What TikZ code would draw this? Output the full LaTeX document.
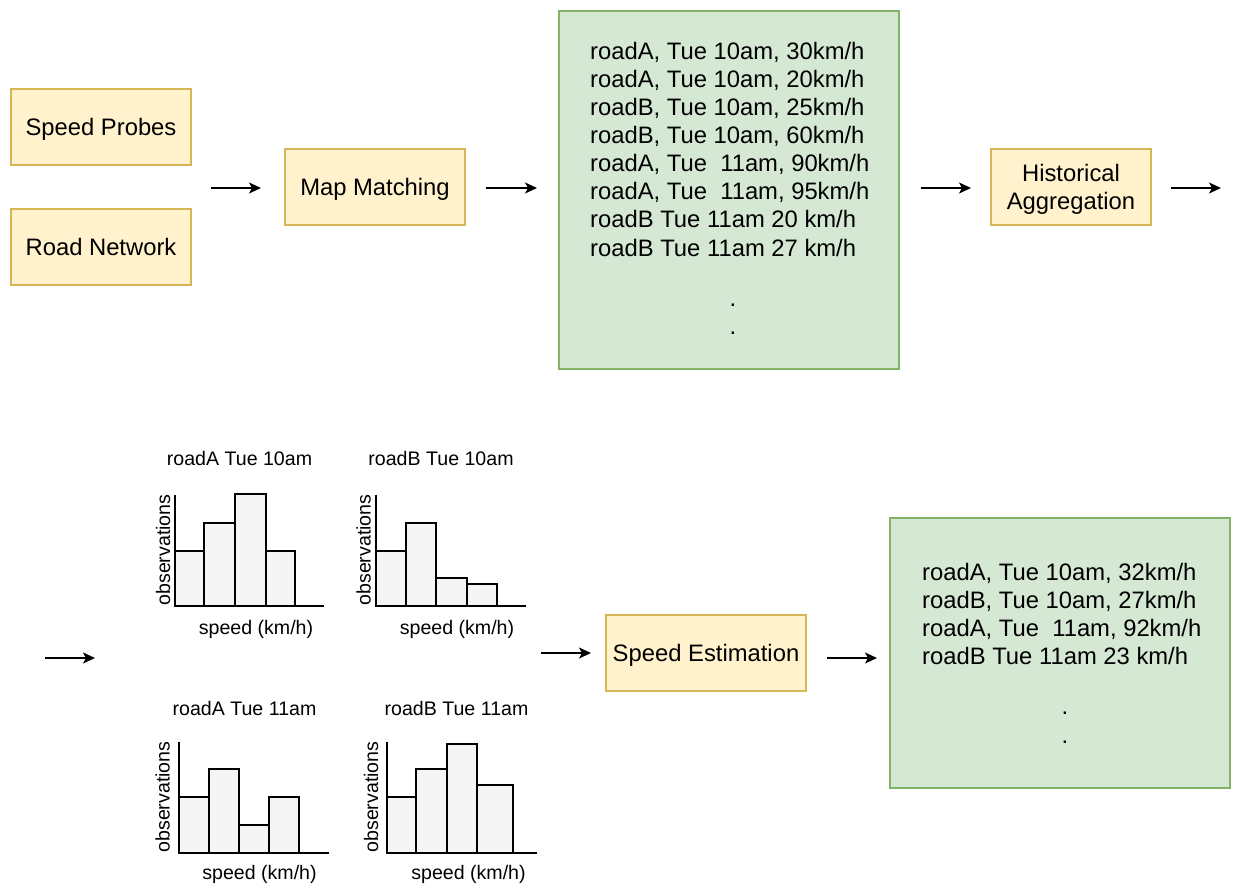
\documentclass[tikz,border=0pt]{standalone}
\usepackage{fontspec}
\setmainfont{Liberation Sans}
\usetikzlibrary{arrows.meta}
\definecolor{yfill}{HTML}{FFF2CC}
\definecolor{yline}{HTML}{D6B656}
\definecolor{gfill}{HTML}{D5E8D4}
\definecolor{gline}{HTML}{82B366}
\definecolor{barfill}{HTML}{F5F5F5}
\begin{document}
\begin{tikzpicture}[x=1pt,y=-1pt,
  big/.style={font=\fontsize{23.8}{27.5}\selectfont},
  small/.style={font=\fontsize{19.6}{23}\selectfont},
  ybox/.style={draw=yline,fill=yfill,line width=1.5pt,big,inner sep=0pt,
    text height=17pt,text depth=0pt,minimum height=76pt},
  gbox/.style={draw=gline,fill=gfill,line width=1.5pt,inner sep=0pt},
  txt/.style={inner sep=0pt},
  flow/.style={line width=1.5pt,-{Stealth[length=12pt,width=11pt,inset=3pt]}},
  bar/.style={draw=black,fill=barfill,line width=2pt},
  axis/.style={draw=black,line width=2pt},
  ylab/.style={small,rotate=90,inner sep=0pt,text depth=0pt}
]
\useasboundingbox (0,0) rectangle (1244,894);
\fill[white] (0,0) rectangle (1244,894);

% top row
\node[ybox,minimum width=180pt] (probes) at (101,127) {Speed Probes};
\node[ybox,minimum width=180pt] (network) at (101,247) {Road Network};
\node[ybox,minimum width=180pt] (mm) at (375,187) {Map Matching};
\node[gbox,minimum width=340pt,minimum height=358pt] (obs) at (729,190) {};
\foreach \t [count=\i] in {{roadA, Tue 10am, 30km/h},{roadA, Tue 10am, 20km/h},{roadB, Tue 10am, 25km/h},{roadB, Tue 10am, 60km/h},{roadA, Tue~~11am, 90km/h},{roadA, Tue~~11am, 95km/h},{roadB Tue 11am 20 km/h},{roadB Tue 11am 27 km/h}}
  \node[big,txt,anchor=base west] (obsl\i) at (590,{59+28.15*(\i-1)}) {\t};
\node[big,txt,anchor=base] (obsd1) at (733,306) {.};
\node[big,txt,anchor=base] (obsd2) at (733,334) {.};
\node[draw=yline,fill=yfill,line width=1.5pt,big,inner sep=0pt,align=center,
  text depth=0pt,minimum width=160pt,minimum height=76pt] (ha) at (1071,187) {Historical\\Aggregation};

\coordinate (a1s) at (211,188); \coordinate (a1e) at (261,188);
\coordinate (a2s) at (486,188); \coordinate (a2e) at (537,188);
\coordinate (a3s) at (921,188); \coordinate (a3e) at (971,188);
\coordinate (a4s) at (1171,188); \coordinate (a4e) at (1221,188);
\draw[flow] (a1s) -- (a1e);
\draw[flow] (a2s) -- (a2e);
\draw[flow] (a3s) -- (a3e);
\draw[flow] (a4s) -- (a4e);

% bottom row
\coordinate (a5s) at (45,658); \coordinate (a5e) at (95,658);
\draw[flow] (a5s) -- (a5e);

% histogram 1
\node[small,txt,anchor=base] (h1t) at (239.5,465) {roadA Tue 10am};
\draw[bar] (175,606) rectangle (204.3,550.7);
\draw[bar] (204.3,606) rectangle (235,522.7);
\draw[bar] (235,606) rectangle (265.7,494.3);
\draw[bar] (265.7,606) rectangle (295,550.7);
\draw[axis] (175,495) -- (175,606) -- (324,606);
\node[ylab] (h1y) at (163,550) {observations};
\node[small,txt,anchor=base] (h1x) at (256,634) {speed (km/h)};

% histogram 2
\node[small,txt,anchor=base] (h2t) at (441,465) {roadB Tue 10am};
\draw[bar] (376,606) rectangle (405.7,550.7);
\draw[bar] (405.7,606) rectangle (436,522.7);
\draw[bar] (436,606) rectangle (466.7,578.3);
\draw[bar] (466.7,606) rectangle (497.3,584.3);
\draw[axis] (376,495) -- (376,606) -- (526,606);
\node[ylab] (h2y) at (363.5,550) {observations};
\node[small,txt,anchor=base] (h2x) at (457,634) {speed (km/h)};

% histogram 3
\node[small,txt,anchor=base] (h3t) at (244.5,715) {roadA Tue 11am};
\draw[bar] (179.3,852.7) rectangle (209,796.7);
\draw[bar] (209,852.7) rectangle (239,768.7);
\draw[bar] (239,852.7) rectangle (269,824.7);
\draw[bar] (269,852.7) rectangle (299,796.7);
\draw[axis] (179.3,741.7) -- (179.3,852.7) -- (329,852.7);
\node[ylab] (h3y) at (162.5,797) {observations};
\node[small,txt,anchor=base] (h3x) at (259.5,879) {speed (km/h)};

% histogram 4
\node[small,txt,anchor=base] (h4t) at (456.5,715) {roadB Tue 11am};
\draw[bar] (386.7,852.7) rectangle (416,796.7);
\draw[bar] (416,852.7) rectangle (446.7,768.7);
\draw[bar] (446.7,852.7) rectangle (477.3,744.3);
\draw[bar] (477.3,852.7) rectangle (512.7,784.7);
\draw[axis] (386.7,741.7) -- (386.7,852.7) -- (537,852.7);
\node[ylab] (h4y) at (371,797) {observations};
\node[small,txt,anchor=base] (h4x) at (468.5,879) {speed (km/h)};

\node[ybox,minimum width=200pt] (se) at (706,653) {Speed Estimation};
\coordinate (a6s) at (541,653); \coordinate (a6e) at (591,653);
\draw[flow] (a6s) -- (a6e);
\coordinate (a7s) at (827,658); \coordinate (a7e) at (877,658);
\draw[flow] (a7s) -- (a7e);

\node[gbox,minimum width=340pt,minimum height=270pt] (est) at (1060,653) {};
\foreach \t [count=\i] in {{roadA, Tue 10am, 32km/h},{roadB, Tue 10am, 27km/h},{roadA, Tue~~11am, 92km/h},{roadB Tue 11am 23 km/h}}
  \node[big,txt,anchor=base west] (estl\i) at (922,{580+28.15*(\i-1)}) {\t};
\node[big,txt,anchor=base] (estd1) at (1065,714) {.};
\node[big,txt,anchor=base] (estd2) at (1065,743) {.};
\end{tikzpicture}
\end{document}
